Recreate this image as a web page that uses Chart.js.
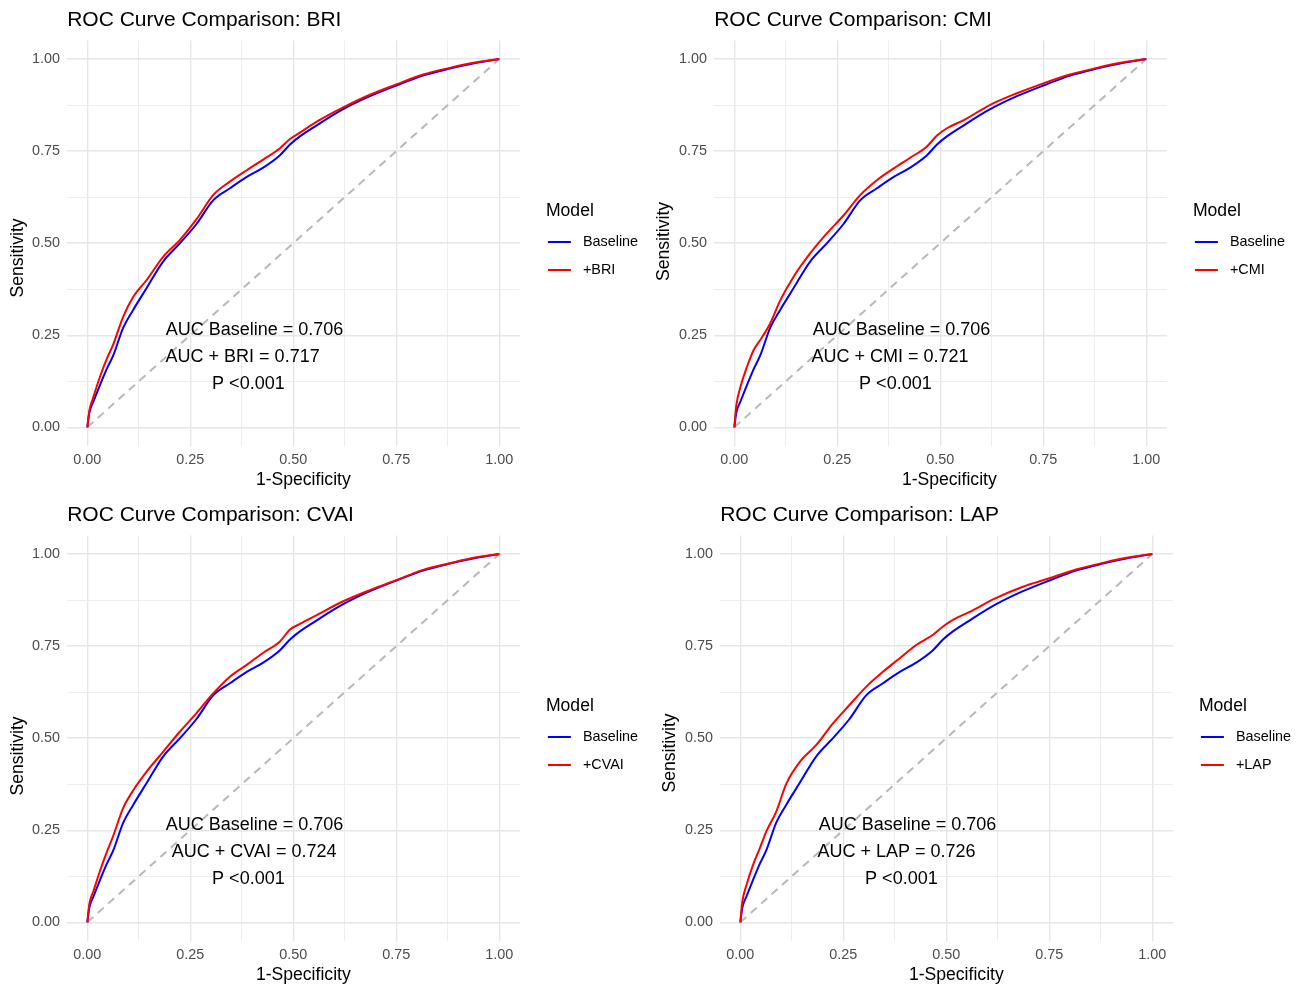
<!DOCTYPE html>
<html>
<head>
<meta charset="utf-8">
<script src="https://cdn.jsdelivr.net/npm/chart.js@4/dist/chart.umd.min.js"></script>
<style>
html,body{margin:0;padding:0;background:#fff;width:1303px;height:985px;overflow:hidden;}
.panel{position:absolute;}
canvas{display:block;}
</style>
</head>
<body>
<div class="panel" style="left:0;top:0;"><canvas id="c0" width="650" height="495"></canvas></div>
<div class="panel" style="left:650px;top:0;"><canvas id="c1" width="653" height="495"></canvas></div>
<div class="panel" style="left:0;top:495px;"><canvas id="c2" width="650" height="495"></canvas></div>
<div class="panel" style="left:650px;top:495px;"><canvas id="c3" width="653" height="495"></canvas></div>
<script>
// ---------- data ----------
const indexNames = ['BRI', 'CMI', 'CVAI', 'LAP'];
const fpr = [0, 0.005, 0.015, 0.031, 0.047, 0.063, 0.087, 0.112, 0.144, 0.184, 0.225, 0.265, 0.306, 0.346, 0.387, 0.427, 0.467, 0.492, 0.516, 0.557, 0.62, 0.686, 0.75, 0.815, 0.88, 0.945, 1];
const tprBaseline = [0, 0.04, 0.07, 0.115, 0.158, 0.195, 0.27, 0.32, 0.378, 0.45, 0.50, 0.552, 0.617, 0.649, 0.68, 0.705, 0.738, 0.768, 0.79, 0.82, 0.863, 0.899, 0.928, 0.955, 0.974, 0.99, 1];
const tprBRI = [0, 0.045, 0.083, 0.138, 0.185, 0.225, 0.30, 0.355, 0.40, 0.463, 0.509, 0.565, 0.631, 0.667, 0.698, 0.727, 0.757, 0.783, 0.80, 0.83, 0.868, 0.903, 0.931, 0.958, 0.976, 0.991, 1];
const tprCMI = [0, 0.06, 0.11, 0.165, 0.21, 0.237, 0.282, 0.346, 0.409, 0.472, 0.527, 0.575, 0.631, 0.671, 0.703, 0.732, 0.762, 0.792, 0.812, 0.834, 0.875, 0.907, 0.934, 0.958, 0.976, 0.991, 1];
const tprCVAI = [0, 0.05, 0.085, 0.14, 0.19, 0.235, 0.31, 0.359, 0.409, 0.463, 0.518, 0.568, 0.622, 0.667, 0.699, 0.732, 0.762, 0.795, 0.81, 0.834, 0.871, 0.902, 0.929, 0.957, 0.975, 0.991, 1];
const tprLAP = [0, 0.056, 0.101, 0.156, 0.2, 0.246, 0.30, 0.377, 0.435, 0.481, 0.54, 0.59, 0.64, 0.68, 0.717, 0.753, 0.78, 0.803, 0.821, 0.843, 0.88, 0.911, 0.934, 0.958, 0.976, 0.991, 1];
const tprModels = [tprBRI, tprCMI, tprCVAI, tprLAP];
const aucBaseline = 0.706;
const aucModels = [0.717, 0.721, 0.724, 0.726];
const pValueText = 'P <0.001';
const diagonal = [0, 1];
const majorTicks = [0, 0.25, 0.5, 0.75, 1];
const tickLabels = ['0.00', '0.25', '0.50', '0.75', '1.00'];
const minorTicks = [0.125, 0.375, 0.625, 0.875];

// ---------- layout / style ----------
const FONT = '"Liberation Sans", Arial, Helvetica, sans-serif';
const layouts = [
  {chartLeft: 66.7, rightPad: 130.1, yTitle: [18, 258], xTitleShift: 10, line2x: 0.377},
  {chartLeft: 63.7, rightPad: 136.1, yTitle: [14, 241.5], xTitleShift: 9, line2x: 0.378},
  {chartLeft: 66.7, rightPad: 130.1, yTitle: [18, 261], xTitleShift: 10, line2x: 0.405},
  {chartLeft: 69.7, rightPad: 130.1, yTitle: [20, 258], xTitleShift: 10, line2x: 0.379}
];
const allTicks = majorTicks.concat(minorTicks).sort((a, b) => a - b);
const isMajor = v => majorTicks.includes(v);
const labelFor = v => { const i = majorTicks.indexOf(v); return i >= 0 ? tickLabels[i] : ''; };

function axis(isX, lay) {
  return {
    type: 'linear', min: -0.05, max: 1.05,
    afterBuildTicks: s => { s.ticks = allTicks.map(v => ({value: v})); },
    afterFit: s => { if (isX) s.height = 49.3; else s.width = lay.chartLeft; },
    ticks: {
      autoSkip: false, maxRotation: 0, minRotation: 0,
      padding: isX ? 5.7 : 6.8,
      color: '#4d4d4d',
      font: {family: FONT, size: 14.4},
      callback: v => labelFor(v)
    },
    grid: {
      drawTicks: false,
      color: c => isMajor(c.tick.value) ? '#e6e6e6' : '#ededed',
      lineWidth: c => isMajor(c.tick.value) ? 1.4 : 1
    },
    border: {display: false}
  };
}

function makeDecor(k) {
  const lay = layouts[k];
  const name = indexNames[k];
  return {
    id: 'decor' + k,
    afterDraw(chart) {
      const ctx = chart.ctx;
      const ca = chart.chartArea;
      const xs = chart.scales.x, ys = chart.scales.y;
      ctx.save();
      // title
      ctx.fillStyle = '#000';
      ctx.font = '21px ' + FONT;
      ctx.textAlign = 'left';
      ctx.textBaseline = 'middle';
      ctx.fillText('ROC Curve Comparison: ' + name, ca.left + 0.5, 20.5);
      // axis titles
      ctx.font = '17.6px ' + FONT;
      ctx.textAlign = 'center';
      ctx.fillText('1-Specificity', (ca.left + ca.right) / 2 + lay.xTitleShift, 480);
      ctx.save();
      ctx.translate(lay.yTitle[0], lay.yTitle[1]);
      ctx.rotate(-Math.PI / 2);
      ctx.fillText('Sensitivity', 0, 0);
      ctx.restore();
      // legend
      const lx = ca.right;
      ctx.textAlign = 'left';
      ctx.font = '17.6px ' + FONT;
      ctx.fillText('Model', lx + 26, 211.5);
      ctx.font = '14.4px ' + FONT;
      const items = [['Baseline', '#0000ff', 242], ['+' + name, '#ff0000', 270]];
      items.forEach(([t, col, y]) => {
        ctx.strokeStyle = col; ctx.lineWidth = 2;
        ctx.beginPath(); ctx.moveTo(lx + 28, y); ctx.lineTo(lx + 51, y); ctx.stroke();
        ctx.fillStyle = '#000';
        ctx.fillText(t, lx + 63, y + 0.5);
      });
      // annotations
      ctx.font = '18px ' + FONT;
      ctx.textAlign = 'center';
      ctx.textBaseline = 'alphabetic';
      ctx.fillStyle = '#000';
      ctx.fillText('AUC Baseline = ' + aucBaseline.toFixed(3), xs.getPixelForValue(0.406), ys.getPixelForValue(0.2506));
      ctx.fillText('AUC + ' + name + ' = ' + aucModels[k].toFixed(3), xs.getPixelForValue(lay.line2x), ys.getPixelForValue(0.1773));
      ctx.fillText(pValueText, xs.getPixelForValue(0.391), ys.getPixelForValue(0.104));
      ctx.restore();
    }
  };
}

for (let k = 0; k < 4; k++) {
  const lay = layouts[k];
  const toPts = arr => fpr.map((x, i) => ({x: x, y: arr[i]}));
  new Chart(document.getElementById('c' + k), {
    type: 'scatter',
    data: {
      datasets: [
        {label: '+' + indexNames[k], data: toPts(tprModels[k]), showLine: true, borderColor: '#ff0000', borderWidth: 2, pointRadius: 0, cubicInterpolationMode: 'monotone', order: 0},
        {label: 'Baseline', data: toPts(tprBaseline), showLine: true, borderColor: '#0000ff', borderWidth: 2, pointRadius: 0, cubicInterpolationMode: 'monotone', order: 1},
        {label: 'Reference', data: diagonal.map(v => ({x: v, y: v})), showLine: true, borderColor: '#b8b8b8', borderWidth: 2, borderDash: [8, 6], pointRadius: 0, order: 2}
      ]
    },
    options: {
      responsive: false, animation: false, devicePixelRatio: 1,
      layout: {padding: {left: 0, top: 40.6, right: lay.rightPad, bottom: 0}},
      plugins: {legend: {display: false}, tooltip: {enabled: false}, title: {display: false}},
      scales: {x: axis(true, lay), y: axis(false, lay)}
    },
    plugins: [makeDecor(k)]
  });
}
</script>
</body>
</html>
